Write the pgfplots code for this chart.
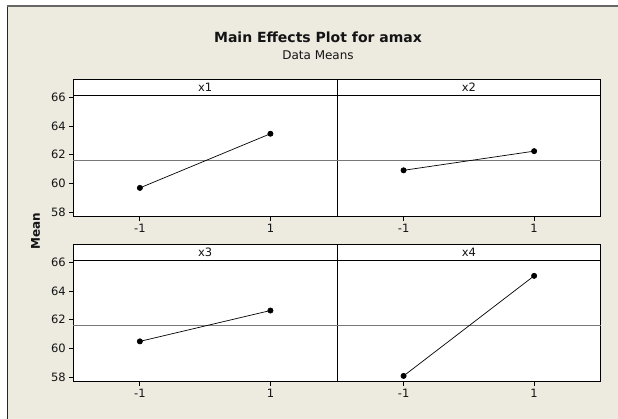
\documentclass[border=0pt]{standalone}
\usepackage{pgfplots}
\pgfplotsset{compat=1.18}
\usepackage{fontspec}
\setmainfont{DejaVu Sans}
\definecolor{bgbeige}{RGB}{237,234,224}
\definecolor{refgray}{RGB}{120,120,120}
\definecolor{txt}{RGB}{20,20,20}
\newcommand{\tickfont}{\fontsize{11.5}{12}\selectfont}
\pgfplotsset{
  panel/.style={
    anchor=south west, scale only axis,
    width=263.7pt, height=121.7pt,
    xmin=-2.02, xmax=2.02, ymin=57.7, ymax=66.15,
    xtick={-1,1}, xticklabels={-1,1},
    ytick={58,60,62,64,66},
    tick align=outside, tick pos=left, major tick length=4pt,
    tick style={black, line width=0.8pt},
    axis line style={black, line width=0.8pt},
    axis background/.style={fill=white},
    ticklabel style={font=\tickfont, text=txt},
    /pgf/number format/assume math mode=true,
    clip=false,
  },
  rightpanel/.style={panel, ytick=\empty},
  refline/.style={refgray, line width=0.9pt, no marks},
  dataline/.style={black, line width=0.7pt, mark=*, mark size=2.6pt, mark options={fill=black}},
}
\begin{document}
\begin{tikzpicture}
\useasboundingbox (0pt,0pt) rectangle (618pt,419pt);
\fill[white] (0pt,0pt) rectangle (618pt,419pt);
\fill[bgbeige] (7.3pt,0pt) rectangle (618pt,413pt);
\draw[black!85, line width=1.3pt] (7.3pt,0pt) -- (7.3pt,413pt);
\draw[black!60, line width=1.3pt] (7.3pt,413pt) -- (618pt,413pt);

% title
\node[anchor=base, font=\fontsize{14}{16}\selectfont\bfseries, text=txt] at (318pt,376.3pt) {Main Effects Plot for amax};
\node[anchor=base, font=\fontsize{12}{13}\selectfont, text=txt] at (318pt,359.7pt) {Data Means};
\node[rotate=90, font=\fontsize{12}{13}\selectfont\bfseries, text=txt] at (35.5pt,188pt) {Mean};

% x1
\begin{axis}[panel, at={(73.3pt,202.3pt)}]
\addplot[refline] coordinates {(-2.02,61.58) (2.02,61.58)};
\addplot[dataline] coordinates {(-1,59.70) (1,63.46)};
\end{axis}
% x2
\begin{axis}[rightpanel, at={(337pt,202.3pt)}]
\addplot[refline] coordinates {(-2.02,61.58) (2.02,61.58)};
\addplot[dataline] coordinates {(-1,60.92) (1,62.25)};
\end{axis}
% x3
\begin{axis}[panel, at={(73.3pt,37.3pt)}]
\addplot[refline] coordinates {(-2.02,61.58) (2.02,61.58)};
\addplot[dataline] coordinates {(-1,60.50) (1,62.64)};
\end{axis}
% x4
\begin{axis}[rightpanel, at={(337pt,37.3pt)}]
\addplot[refline] coordinates {(-2.02,61.58) (2.02,61.58)};
\addplot[dataline] coordinates {(-1,58.10) (1,65.05)};
\end{axis}

% strips
\foreach \xa/\ya/\lab in {73.3/324/x1, 337/324/x2, 73.3/159/x3, 337/159/x4}{
  \filldraw[fill=white, draw=black, line width=0.8pt] (\xa pt,\ya pt) rectangle ++(263.7pt,16pt);
  \node[font=\tickfont, text=txt] at (\xa pt+131.85pt,\ya pt+8pt) {\lab};
}
\end{tikzpicture}
\end{document}
